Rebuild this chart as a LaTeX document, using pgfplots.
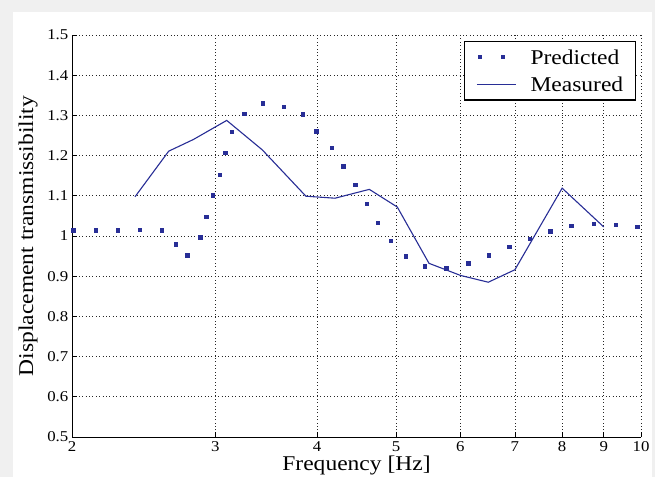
\documentclass[border=0pt]{standalone}
\usepackage{fontspec}
\setmainfont{Liberation Serif}[FakeStretch=1.12]
\usepackage{pgfplots}
\pgfplotsset{compat=1.18}
\usepackage{pgfplotstable}
\definecolor{bgray}{RGB}{240,240,240}
\definecolor{mblue}{RGB}{40,46,150}
\pgfplotstableread{
f y
2.007 1.015
2.137 1.015
2.274 1.015
2.422 1.016
2.578 1.015
2.682 0.980
2.771 0.9525
2.873 0.997
2.924 1.048
2.978 1.102
3.034 1.153
3.085 1.207
3.142 1.259
3.253 1.304
3.426 1.331
3.636 1.3225
3.841 1.303
3.991 1.261
4.169 1.220
4.308 1.174
4.453 1.1275
4.603 1.081
4.743 1.033
4.921 0.988
5.134 0.950
5.423 0.925
5.765 0.920
6.130 0.933
6.500 0.952
6.884 0.973
7.298 0.993
7.730 1.012
8.210 1.026
8.740 1.031
9.300 1.029
9.890 1.023
}\predicted
\pgfplotstableread{
f y
2.390 1.0975
2.629 1.211
2.819 1.240
3.098 1.2875
3.426 1.2142
3.876 1.099
4.208 1.094
4.637 1.116
5.019 1.072
5.490 0.932
6.000 0.902
6.492 0.885
7.000 0.916
8.000 1.119
9.000 1.0225
}\measured
\begin{document}
\begin{tikzpicture}[x=1bp,y=1bp]
\path[use as bounding box] (-72,-40) rectangle (583,437);
\fill[bgray] (-72,-40) rectangle (583,437);
\fill[white] (-59,-40) rectangle (580,425);
\begin{axis}[
  at={(0,0)}, anchor=south west,
  scale only axis, width=569bp, height=402bp,
  xmode=log, xmin=2, xmax=10, ymin=0.5, ymax=1.5,
  xtick={2,3,4,5,6,7,8,9,10}, xticklabels={2,3,4,5,6,7,8,9,10},
  minor xtick={},
  ytick={0.5,0.6,0.7,0.8,0.9,1,1.1,1.2,1.3,1.4,1.5},
  axis x line*=bottom, axis y line*=left,
  axis line style={line width=0.7bp, black, -},
  tick align=inside, major tick length=5bp,
  tick style={line width=0.7bp, black},
  grid=major,
  grid style={line width=0.65bp, dash pattern=on 0.8bp off 2.6bp, black!85},
  /pgf/number format/assume math mode=true,
  ticklabel style={font=\fontsize{15bp}{18bp}\selectfont},
  yticklabel style={inner xsep=3.5bp},
  xticklabel style={inner ysep=4bp},
  label style={font=\fontsize{21bp}{25bp}\selectfont},
  xlabel={Frequency [Hz]},
  ylabel={Displacement transmissibility},
  xlabel style={at={(axis description cs:0.5,0)}, anchor=base, yshift=-34bp},
  ylabel style={at={(axis description cs:-0.0773,0.5)}, anchor=center, rotate=0},
  clip=false,
  legend cell align=left,
  legend style={at={(axis description cs:0.9912,0.9851)}, anchor=north east,
    draw=black, line width=1.5bp, fill=white,
    inner xsep=12bp, inner ysep=8bp, row sep=13bp, column sep=14bp,
    nodes={inner sep=0bp, text depth=0bp},
    font=\fontsize{21bp}{25bp}\selectfont},
]
\addplot[only marks, mark=square*, mark size=1.7bp, mblue, mark options={draw=mblue, fill=mblue, line width=0.2bp},
  legend image code/.code={\path[draw=none, fill=none] (0bp,0bp) rectangle (39bp,0.1bp);
    \fill[mblue] (1.3bp,-1.7bp) rectangle (4.7bp,1.7bp);
    \fill[mblue] (24.3bp,-1.7bp) rectangle (27.7bp,1.7bp);}]
  table[x=f, y=y] {\predicted};
\addlegendentry{Predicted}
\addplot[mblue, line width=1.1bp, no marks,
  legend image code/.code={\draw[mblue, line width=1.1bp] (0bp,0bp) -- (39bp,0bp);}]
  table[x=f, y=y] {\measured};
\addlegendentry{Measured}
\end{axis}
\end{tikzpicture}
\end{document}
